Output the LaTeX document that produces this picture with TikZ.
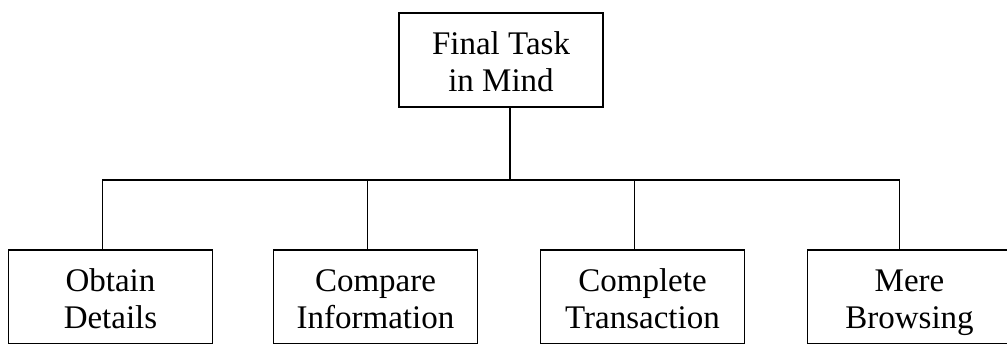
\documentclass[tikz,border=0pt]{standalone}
\usepackage{fontspec}
\setmainfont{Liberation Serif}
\usetikzlibrary{calc}
% two centred lines with fixed baselines, whatever letters they hold
\newcommand\pair[2]{\rule{0pt}{27pt}#1\\\raisebox{0pt}[0pt][0pt]{#2}}
\tikzset{
  taskbox/.style={draw, line width=1.6pt, minimum width=204pt, minimum height=94pt,
    inner sep=0pt, align=center, font=\fontsize{33}{37}\selectfont},
  link/.style={line width=1.6pt}
}
\begin{document}
\begin{tikzpicture}[x=1pt,y=-1pt]
  \useasboundingbox (0,0) rectangle (1007,344);
  \clip (0,0) rectangle (1007,344);
  % root goal
  \node[taskbox] (goal) at (501,60) {\pair{Final Task}{in Mind}};
  % four kinds of task
  \node[taskbox] (obtain)   at (110.5,297) {\pair{Obtain}{Details}};
  \node[taskbox] (compare)  at (375.5,297) {\pair{Compare}{Information}};
  \node[taskbox] (complete) at (642.5,297) {\pair{Complete}{Transaction}};
  \node[taskbox] (browse)   at (909.5,297) {\pair{Mere}{Browsing}};
  % tree connectors
  \coordinate (gs) at ($(goal.south)+(9,0)$);
  \coordinate (bus) at (gs |- 0,180);
  \coordinate (o) at ($(obtain.north)+(-8,0)$);
  \coordinate (c1) at ($(compare.north)+(-8,0)$);
  \coordinate (c2) at ($(complete.north)+(-8,0)$);
  \coordinate (m) at ($(browse.north)+(-10,0)$);
  \draw[link] (gs) -- (bus);
  \draw[link] (o) -- (o |- bus) -- (m |- bus) -- (m);
  \draw[link] (c1) -- (c1 |- bus);
  \draw[link] (c2) -- (c2 |- bus);
\end{tikzpicture}
\end{document}
